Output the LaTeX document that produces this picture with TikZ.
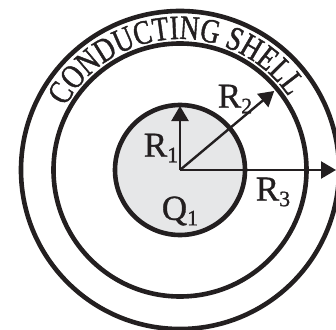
\documentclass[tikz,border=0pt]{standalone}
\usepackage{fontspec}
\setmainfont[FakeBold=0.9]{Liberation Serif}
\newfontfamily\arcfont[FakeStretch=0.79,FakeBold=1.2]{Liberation Serif}
\usepackage{xcolor}
\usepackage{tikz}
\usetikzlibrary{arrows.meta,decorations.text}
\definecolor{ink}{HTML}{231F20}
\definecolor{coreg}{HTML}{E6E7E8}
\newcommand{\lowsub}[1]{\raisebox{-0.16em}{\fontsize{22}{22}\selectfont #1}}
\tikzset{
  ar/.style={-{Triangle[length=15pt,width=17pt]},line width=2.4pt,ink},
  shell/.style={draw=ink,line width=4.6pt},
  lbl/.style={font=\fontsize{35}{35}\selectfont,text=ink,inner sep=0pt}
}
\begin{document}
\begin{tikzpicture}[x=1pt,y=1pt]
\useasboundingbox (-180,-159) rectangle (156,170);
\coordinate (o) at (0,0);
% shells
\draw[shell] (o) circle (159);
\draw[shell] (o) circle (126.5);
\draw[shell,fill=coreg] (o) circle (65);
% label on the shell
\path[decorate,decoration={text along path,text align=center,
  text={|\arcfont\fontsize{34}{34}\selectfont\color{ink}|CONDUCTING SHELL}}]
  (155:131) arc (155:30:131);
% radii
\coordinate (r1) at (90:64);
\coordinate (r2) at (40:123);
\coordinate (r3) at (0:156);
\draw[ar] (o) -- (r1);
\draw[ar] (o) -- (r2);
\draw[ar] (o) -- (r3);
\node[lbl] (l1) at (-19,22) {R\lowsub{1}};
\node[lbl] (l2) at (55,71) {R\lowsub{2}};
\node[lbl] (l3) at (93,-22) {R\lowsub{3}};
\node[lbl] (q1) at (0,-41) {Q\lowsub{1}};
\end{tikzpicture}
\end{document}
